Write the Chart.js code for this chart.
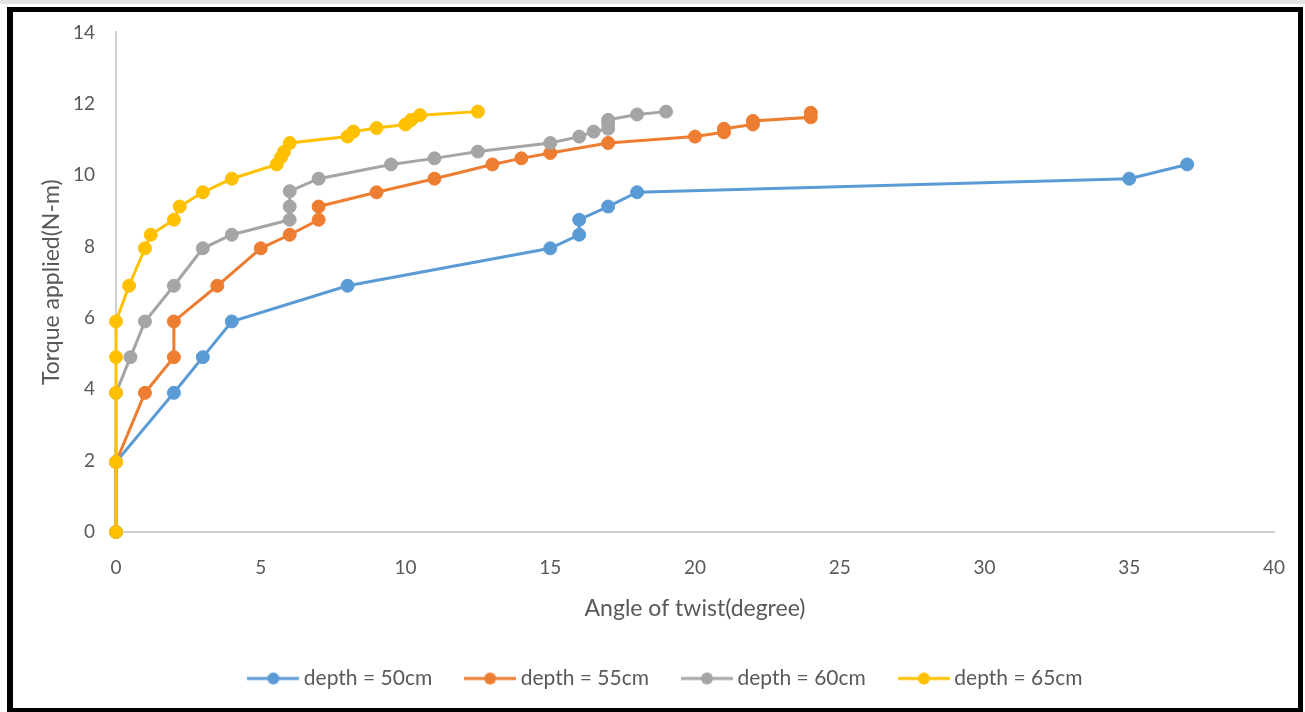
<!DOCTYPE html>
<html lang="en">
<head>
    <meta charset="UTF-8">
    <title>Torque vs angle of twist</title>
    <script src="https://cdn.jsdelivr.net/npm/chart.js"></script>
    <style>
        html, body { margin: 0; padding: 0; background: #fff; }
        #wrap { position: relative; width: 1305px; height: 712px; overflow: hidden; }
        #topband { position: absolute; left: 0; top: 0; width: 1305px; height: 4px; background: #e3e3e3; }
        #frame {
            position: absolute; left: 7px; top: 7px; width: 1285px; height: 696px;
            border: 5px solid #000; border-left-width: 6px; border-bottom-width: 4px;
            pointer-events: none;
        }
        canvas { position: absolute; left: 0; top: 0; }
    </style>
</head>
<body>
<div id="wrap">
    <div id="topband"></div>
    <canvas id="twistChart" width="1305" height="712"></canvas>
    <div id="frame"></div>
</div>
<script>
    // angle of twist (degree) and torque (N-m)
    const depth50X = [0, 0, 2, 3, 4, 8, 15, 16, 16, 17, 18, 35, 37];
    const depth50Y = [0, 1.96, 3.9, 4.9, 5.9, 6.9, 7.95, 8.33, 8.75, 9.12, 9.52, 9.9, 10.3];

    const depth55X = [0, 0, 1, 2, 2, 3.5, 5, 6, 7, 7, 9, 11, 13, 14, 15, 17, 20, 21, 21, 22, 22, 24, 24];
    const depth55Y = [0, 1.96, 3.9, 4.9, 5.9, 6.9, 7.95, 8.33, 8.75, 9.12, 9.52, 9.9, 10.3, 10.47, 10.62, 10.9, 11.08, 11.2, 11.3, 11.42, 11.52, 11.62, 11.75];

    const depth60X = [0, 0, 0, 0.5, 1, 2, 3, 4, 6, 6, 6, 7, 9.5, 11, 12.5, 15, 16, 16.5, 17, 17, 17, 18, 19];
    const depth60Y = [0, 1.96, 3.9, 4.9, 5.9, 6.9, 7.95, 8.33, 8.75, 9.12, 9.55, 9.9, 10.3, 10.47, 10.66, 10.9, 11.08, 11.22, 11.3, 11.45, 11.55, 11.7, 11.78];

    const depth65X = [0, 0, 0, 0, 0, 0.45, 1, 1.2, 2, 2.2, 3, 4, 5.55, 5.7, 5.8, 6, 8, 8.2, 9, 10, 10.2, 10.5, 12.5];
    const depth65Y = [0, 1.96, 3.9, 4.9, 5.9, 6.9, 7.95, 8.33, 8.75, 9.12, 9.52, 9.9, 10.3, 10.5, 10.65, 10.9, 11.08, 11.22, 11.32, 11.42, 11.55, 11.68, 11.78];

    const seriesNames = ["depth = 50cm", "depth = 55cm", "depth = 60cm", "depth = 65cm"];
    const seriesColors = ["#5B9BD5", "#ED7D31", "#A5A5A5", "#FFC000"];

    const textColor = "#595959";
    const fontFamily = "Lato, 'Open Sans', sans-serif";

    function pairUp(xs, ys) {
        return xs.map((x, i) => ({ x: x, y: ys[i] }));
    }

    // line-with-dot marker for the legend, like the spreadsheet one
    function legendMarker(color) {
        const c = document.createElement("canvas");
        c.width = 52;
        c.height = 16;
        const g = c.getContext("2d");
        g.strokeStyle = color;
        g.lineWidth = 3;
        g.beginPath();
        g.moveTo(0, 8);
        g.lineTo(52, 8);
        g.stroke();
        g.fillStyle = color;
        g.beginPath();
        g.arc(26, 8, 6, 0, Math.PI * 2);
        g.fill();
        return c;
    }

    const allX = [depth50X, depth55X, depth60X, depth65X];
    const allY = [depth50Y, depth55Y, depth60Y, depth65Y];

    const datasets = seriesNames.map((name, i) => ({
        label: name,
        data: pairUp(allX[i], allY[i]),
        showLine: true,
        clip: false,
        borderColor: seriesColors[i],
        backgroundColor: seriesColors[i],
        borderWidth: 3,
        pointRadius: 6.5,
        pointHoverRadius: 6.5,
        pointBorderWidth: 1,
        pointBackgroundColor: seriesColors[i],
        pointBorderColor: seriesColors[i],
        tension: 0,
        order: seriesNames.length - 1 - i
    }));

    const legendShift = {
        id: "legendShift",
        afterLayout(chart) {
            chart.legend.left += 31;
            chart.legend.right += 31;
        }
    };

    const ctx = document.getElementById("twistChart").getContext("2d");
    new Chart(ctx, {
        type: "scatter",
        data: { datasets: datasets },
        plugins: [legendShift],
        options: {
            responsive: false,
            animation: false,
            layout: { padding: { left: 0, right: 31, top: 31, bottom: 13 } },
            plugins: {
                tooltip: { enabled: false },
                legend: {
                    position: "bottom",
                    labels: {
                        usePointStyle: true,
                        pointStyleWidth: 40,
                        padding: 38,
                        color: textColor,
                        font: { family: fontFamily, size: 21 },
                        sort: (a, b) => a.datasetIndex - b.datasetIndex,
                        generateLabels(chart) {
                            const items = Chart.defaults.plugins.legend.labels.generateLabels(chart);
                            items.forEach(it => {
                                it.pointStyle = legendMarker(seriesColors[it.datasetIndex]);
                            });
                            return items;
                        }
                    }
                }
            },
            scales: {
                x: {
                    type: "linear",
                    min: 0,
                    max: 40,
                    ticks: {
                        stepSize: 5,
                        padding: 24,
                        color: textColor,
                        font: { family: fontFamily, size: 19 }
                    },
                    grid: { display: false, drawTicks: false },
                    border: { display: true, color: "#d0d0d0", width: 2 },
                    title: {
                        display: true,
                        text: "Angle of twist(degree)",
                        color: textColor,
                        font: { family: fontFamily, size: 23 },
                        padding: { top: 0, bottom: 8 }
                    },
                    afterFit(scale) {
                        scale.height = 98;
                        scale.paddingLeft = 0;
                        scale.paddingRight = 0;
                    }
                },
                y: {
                    type: "linear",
                    min: 0,
                    max: 14,
                    ticks: {
                        stepSize: 2,
                        padding: 21,
                        color: textColor,
                        font: { family: fontFamily, size: 19 }
                    },
                    grid: { display: false, drawTicks: false },
                    border: { display: true, color: "#d0d0d0", width: 2 },
                    title: {
                        display: true,
                        text: "Torque applied(N-m)",
                        color: textColor,
                        font: { family: fontFamily, size: 23 },
                        padding: { top: 38, bottom: 0 }
                    },
                    afterFit(scale) { scale.width = 116; }
                }
            }
        }
    });
</script>
</body>
</html>
